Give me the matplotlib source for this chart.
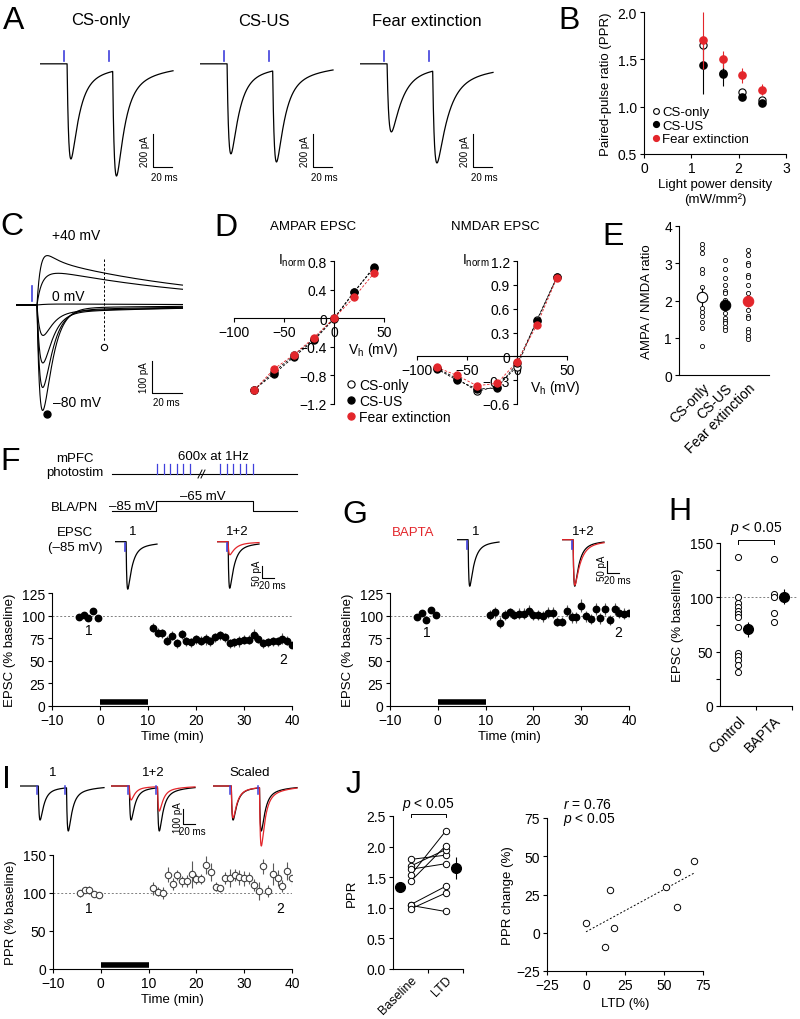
import numpy as np
import matplotlib
matplotlib.use('Agg')
import matplotlib.pyplot as plt
from matplotlib.ticker import FuncFormatter, MultipleLocator

plt.rcParams['font.family'] = ['Liberation Sans', 'DejaVu Sans']
plt.rcParams['font.size'] = 9.5
plt.rcParams['mathtext.fontset'] = 'custom'
plt.rcParams['mathtext.rm'] = 'Liberation Sans'
plt.rcParams['mathtext.it'] = 'Liberation Sans:italic'
plt.rcParams['axes.linewidth'] = 0.8

RED = '#e3262b'
BLUE = '#3f3fdc'
GREY = '#808080'

# ---------------- data ----------------
# A: paired-pulse EPSCs (pA)
A_titles = ['CS-only', 'CS-US', 'Fear extinction']
A_stim = [25, 73]
A_peak1 = [576, 545, 412]
A_peak2 = [679, 594, 600]
A_decay = [8, 8, 11]

# B: PPR vs light power
B_light = [1.24, 1.66, 2.08, 2.49]
B_cs_only = [1.65, 1.36, 1.16, 1.07]
B_cs_only_err = [0.05, 0.05, 0.03, 0.03]
B_cs_us = [1.44, 1.34, 1.10, 1.04]
B_cs_us_err = [0.31, 0.12, 0.03, 0.03]
B_fe = [1.70, 1.50, 1.33, 1.18]
B_fe_err = [0.30, 0.09, 0.08, 0.06]

# C: EPSCs at holding potentials (pA)
C_vh = [-80, -60, -40, -20, 0, 20, 40]
C_ampa = [-325, -250, -170, -85, 0, 20, 75]
C_nmda = [-8, -14, -20, -18, 3, 95, 120]

# D: I-V curves (normalised)
D_vh = [-80, -60, -40, -20, 0, 20, 40]
D_ampa_cs_only = [-1.00, -0.75, -0.52, -0.29, 0.0, 0.37, 0.70]
D_ampa_cs_us = [-1.00, -0.78, -0.54, -0.31, -0.01, 0.36, 0.72]
D_ampa_fe = [-1.01, -0.71, -0.51, -0.27, 0.0, 0.29, 0.63]
D_nmda_cs_only = [-0.15, -0.28, -0.44, -0.38, -0.13, 0.46, 1.0]
D_nmda_cs_us = [-0.16, -0.30, -0.41, -0.40, -0.09, 0.45, 1.0]
D_nmda_fe = [-0.14, -0.24, -0.37, -0.34, -0.07, 0.40, 0.99]

# E: AMPA/NMDA ratio
E_groups = ['CS-only', 'CS-US', 'Fear extinction']
E_cs_only = [3.53, 3.40, 3.27, 2.84, 2.75, 2.36, 1.81, 1.70, 1.58, 1.42, 1.27, 0.78]
E_cs_us = [3.10, 2.85, 2.61, 2.42, 2.25, 2.19, 2.01, 1.67, 1.53, 1.45, 1.39, 1.29, 1.21]
E_fe = [3.36, 3.21, 3.00, 2.95, 2.68, 2.64, 2.41, 2.21, 1.92, 1.74, 1.58, 1.54,
        1.24, 1.16, 1.05, 0.96]
E_means = [2.09, 1.89, 1.99]
E_sem = [0.24, 0.14, 0.16]

# F / G: LTD time course
base_t = [-4.4, -3.4, -2.4, -1.4, -0.4]
post_t = list(range(11, 41))
F_base = [98.0, 100.7, 97.4, 104.8, 97.8]
F_post = [86.4, 81.3, 80.6, 72.2, 77.7, 69.2, 79.5, 71.8, 70.3, 74.0, 72.2, 74.0,
          71.4, 76.2, 78.0, 75.8, 69.2, 70.3, 71.4, 73.3, 73.3, 78.8, 74.4, 69.6,
          70.3, 71.4, 71.4, 74.4, 72.2, 67.0]
F_post_err = [5, 5, 5, 5, 5, 5, 5, 5, 5, 5, 5, 6, 5, 5, 5, 5, 5, 5, 6, 5, 5, 6,
              5, 5, 5, 5, 5, 6, 5, 5]
F_trace_amp = [196, 192, 54]
G_base = [98.9, 102.6, 95.6, 106.3, 101.1]
G_post = [100.7, 103.7, 91.9, 100.7, 103.7, 100.7, 101.9, 101.9, 105.2, 100.7,
          100.7, 99.3, 103.0, 103.0, 93.3, 93.3, 105.6, 98.1, 98.1, 111.1, 99.3,
          96.3, 107.4, 97.0, 107.4, 95.2, 107.4, 103.0, 102.2, 102.6]
G_post_err = [6, 6, 6, 6, 5, 5, 6, 6, 6, 6, 6, 6, 6, 6, 5, 5, 6, 6, 6, 7, 6,
              6, 7, 6, 7, 6, 7, 6, 6, 6]
G_trace_amp = [192, 192, 188]

# H: summary
H_groups = ['Control', 'BAPTA']
H_control = [137, 100, 95, 91, 87, 85, 82, 73, 49, 46, 42, 38, 31]
H_bapta = [135, 103, 100, 86, 77]
H_means = [70.7, 100.6]
H_sem = [7, 7]

# I: PPR time course
I_trace_amp1 = [227, 93, 213]
I_trace_amp2 = [300, 167, 400]
I_base = [99.6, 103.9, 103.9, 98.7, 97.4]
I_post = [106.0, 101.8, 100.4, 124.0, 111.4, 123.7, 115.4, 116.2, 124.6, 118.4,
          118.4, 136.8, 128.0, 108.3, 106.1, 119.3, 120.2, 123.7, 120.6, 119.3,
          119.7, 111.0, 102.2, 135.0, 102.2, 125.0, 119.7, 109.6, 128.5, 119.3]
I_base_err = [5, 4, 5, 4, 3]
I_post_err = [8, 6, 8, 10, 8, 7, 7, 8, 18, 7, 7, 12, 12, 6, 5, 8, 12, 8, 10, 10,
              8, 8, 12, 10, 8, 15, 10, 8, 12, 10]

# J
J_conditions = ['Baseline', 'LTD']
J_baseline = [1.79, 1.68, 1.63, 1.53, 1.43, 1.05, 1.04, 0.98]
J_ltd = [1.86, 1.95, 1.72, 2.25, 2.01, 1.35, 0.94, 1.24]
J_means = [1.34, 1.65]
J_sem = [0.08, 0.18]
J_ltd_pct = [0, 12.4, 15.7, 18.2, 51.1, 58.2, 58.6, 69.3]
J_ppr_change = [6.6, -9.2, 28.2, 3.1, 29.8, 16.8, 39.6, 47.0]

# ---------------- helpers ----------------
W, H = 800, 1020
fig = plt.figure(figsize=(8, 10.2), dpi=100)


def pax(x0, y0, x1, y1):
    return fig.add_axes([x0 / W, 1 - y1 / H, (x1 - x0) / W, (y1 - y0) / H])


def ftext(x, y, s, **kw):
    kw.setdefault('ha', 'center')
    kw.setdefault('va', 'center')
    fig.text(x / W, 1 - y / H, s, **kw)


def style(ax):
    for s in ('top', 'right'):
        ax.spines[s].set_visible(False)
    ax.tick_params(direction='out', length=3, width=0.8, pad=2, labelsize=10)


def kernel(t, onset, tau_r, tau_d):
    s = np.clip(t - onset, 0, None)
    return np.exp(-s / tau_d) - np.exp(-s / tau_r)


def epsc(t, onset, amp, tau_d, tau_r=2.0):
    w = 0.88 * kernel(t, onset, tau_r, tau_d) + 0.12 * kernel(t, onset, 4.0, 5 * tau_d)
    return -amp * w / w.max()


def pair(t, stims, a1, a2, tau_d, lat=3.5, tau_r=2.0):
    first = epsc(t, stims[0] + lat, a1, tau_d, tau_r)
    shape2 = epsc(t, stims[1] + lat, 1.0, tau_d, tau_r)
    i2 = np.argmin(shape2)
    return first + (a2 + first[i2]) * shape2


mfmt = FuncFormatter(lambda v, p: ('%g' % round(v, 2)).replace('-', '\u2212'))
f1fmt = FuncFormatter(lambda v, p: '%.1f' % v)

# panel letters
for L, x, y in [('A', 14, 21), ('B', 569, 21), ('C', 12, 227), ('D', 226, 228),
                ('E', 613, 237), ('F', 10, 462), ('G', 355, 515), ('H', 680, 512),
                ('I', 6, 780), ('J', 354, 785)]:
    ftext(x, y, L, fontsize=23)

# ---------------- A ----------------
for i in range(3):
    x0 = 40 + 160 * i
    ax = pax(x0, 45, x0 + 142.5, 197)
    ax.set_xlim(0, 150)
    ax.set_ylim(-800, 120)
    ax.axis('off')
    t = np.linspace(0, 140, 1401)
    ax.plot(t, pair(t, A_stim, A_peak1[i], A_peak2[i], A_decay[i]), color='k', lw=0.9)
    for s in A_stim:
        ax.plot([s, s], [18, 80], color=BLUE, lw=1.2)
    ax.plot([119, 119, 139], [-424, -624, -624], color='k', lw=0.8)
    ax.text(110, -524, '200 pA', rotation=90, ha='center', va='center', fontsize=7)
    ax.text(131, -652, '20 ms', ha='center', va='top', fontsize=7)
    ftext(101 + 163 * i, 21, A_titles[i], fontsize=12)

# ---------------- B ----------------
ax = pax(644, 13, 786, 155)
style(ax)
ax.errorbar(B_light, B_cs_only, yerr=B_cs_only_err, fmt='o', ms=5.2, mfc='white', mec='k',
            mew=0.8, ecolor='k', elinewidth=0.8, label='CS-only', zorder=3)
ax.errorbar(B_light, B_cs_us, yerr=B_cs_us_err, fmt='o', ms=5.2, color='k',
            ecolor='k', elinewidth=0.8, label='CS-US', zorder=4)
ax.errorbar(B_light, B_fe, yerr=B_fe_err, fmt='o', ms=5.2, color=RED,
            ecolor=RED, elinewidth=0.8, label='Fear extinction', zorder=5)
ax.set_xlim(0, 3)
ax.set_ylim(0.5, 2.0)
ax.set_xticks([0, 1, 2, 3])
ax.set_yticks([0.5, 1.0, 1.5, 2.0])
ax.yaxis.set_major_formatter(f1fmt)
ax.set_ylabel('Paired-pulse ratio (PPR)', labelpad=4)
ax.set_xlabel('Light power density\n(mW/mm²)', labelpad=2, linespacing=1.3)
h, l = ax.get_legend_handles_labels()
ax.legend([hh[0] for hh in h], l, loc='upper left', bbox_to_anchor=(652 / W, 1 - 107 / H),
          bbox_transform=fig.transFigure, frameon=False, handlelength=0.6,
          handletextpad=0.15, labelspacing=0.1, borderpad=0, borderaxespad=0,
          markerscale=0.8, fontsize=9.5)

# ---------------- C ----------------
ax = pax(16, 225, 188, 420)
ax.set_xlim(0, 114.7)
ax.set_ylim(-356, 253)
ax.axis('off')
t = np.linspace(0, 111, 1111)
fast = kernel(t, 14, 2.5, 6)
fast = fast / fast.max()
slow = kernel(t, 14, 6, 110)
slow = slow / slow.max()
for a, n in zip(C_ampa, C_nmda):
    ax.plot(t, a * fast + n * slow, color='k', lw=0.8)
ax.plot([11, 11], [12, 59], color=BLUE, lw=1.2)
ax.plot([59, 59], [144, -116], color='k', lw=0.7, ls=(0, (2.5, 2)))
ax.plot([59], [-131], 'o', ms=4.5, mfc='white', mec='k', mew=0.8)
ax.plot([21], [-340], 'o', ms=5, color='k', clip_on=False)
ax.text(40, 219, '+40 mV', ha='center', va='center', fontsize=10)
ax.text(35, 28, '0 mV', ha='center', va='center', fontsize=10)
ax.text(41, -303, '\u201380 mV', ha='center', va='center', fontsize=10)
ax.plot([91, 91, 111], [-175, -275, -275], color='k', lw=0.8)
ax.text(85.5, -225, '100 pA', rotation=90, ha='center', va='center', fontsize=7)
ax.text(100, -288, '20 ms', ha='center', va='top', fontsize=7)

# ---------------- D ----------------
def iv_axes(box, ylim, yticks, series, lab_norm, lab_vh):
    ax = pax(*box)
    ax.set_xlim(-100, 50)
    ax.set_ylim(*ylim)
    for s in ('top', 'right'):
        ax.spines[s].set_visible(False)
    ax.spines['left'].set_position(('data', 0))
    ax.spines['bottom'].set_position(('data', 0))
    ax.tick_params(direction='out', length=3, width=0.8, pad=2, labelsize=10)
    ax.set_xticks([-100, -50, 0, 50])
    ax.set_yticks(yticks)
    ax.xaxis.set_major_formatter(mfmt)
    ax.yaxis.set_major_formatter(mfmt)
    for vals, mfc, mec, lc, lab in series:
        ax.plot(D_vh, vals, color=lc, lw=0.6, ls=(0, (3, 2)), zorder=2)
    for vals, mfc, mec, lc, lab in series:
        ax.plot(D_vh, vals, 'o', ms=5.2, mfc=mfc, mec=mec, mew=0.8, label=lab,
                zorder=3, clip_on=False)
    ftext(lab_norm[0], lab_norm[1], r'I$_\mathregular{norm}$', fontsize=10)
    ftext(lab_vh[0], lab_vh[1], r'V$_\mathregular{h}$ (mV)', fontsize=10, ha='left')
    return ax


axA = iv_axes((234, 262, 384, 405), (-1.2, 0.8), [-1.2, -0.8, -0.4, 0, 0.4, 0.8],
              [(D_ampa_cs_only, 'white', 'k', 'k', 'CS-only'),
               (D_ampa_cs_us, 'k', 'k', 'k', 'CS-US'),
               (D_ampa_fe, RED, RED, RED, 'Fear extinction')],
              (292, 261), (348, 350))
axN = iv_axes((417, 262, 567, 405), (-0.6, 1.2), [-0.6, -0.3, 0, 0.3, 0.6, 0.9, 1.2],
              [(D_nmda_cs_only, 'white', 'k', 'k', 'CS-only'),
               (D_nmda_cs_us, 'k', 'k', 'k', 'CS-US'),
               (D_nmda_fe, RED, RED, RED, 'Fear extinction')],
              (476, 261), (530, 388))
ftext(313, 227, 'AMPAR EPSC', fontsize=9.5)
ftext(495, 227, 'NMDAR EPSC', fontsize=9.5)
axA.legend(loc='upper left', bbox_to_anchor=(347 / W, 1 - 379 / H),
           bbox_transform=fig.transFigure, frameon=False, handlelength=0.6,
           handletextpad=0.25, labelspacing=0.15, borderpad=0, borderaxespad=0,
           fontsize=10)

# ---------------- E ----------------
ax = pax(679, 227, 769, 376)
style(ax)
for k, vals in enumerate([E_cs_only, E_cs_us, E_fe]):
    ax.plot([k + 1] * len(vals), vals, 'o', ms=3, mfc='white', mec='k', mew=0.6)
for k, (m, e, fc, ec) in enumerate(zip(E_means, E_sem, ['white', 'k', RED], ['k', 'k', RED])):
    ax.errorbar([k + 1], [m], yerr=[e], fmt='o', ms=7.5, mfc=fc, mec=ec, mew=0.8,
                ecolor=ec, elinewidth=0.8, zorder=4)
ax.set_xlim(0, 3.9)
ax.set_ylim(0, 4)
ax.set_yticks([0, 1, 2, 3, 4])
ax.set_xticks([1, 2, 3])
ax.set_xticklabels(E_groups, rotation=45, ha='right', rotation_mode='anchor')
ax.tick_params(axis='x', length=0, pad=4)
ax.set_ylabel('AMPA / NMDA ratio', labelpad=8)

# ---------------- F / G schematic ----------------
sch = fig.add_axes([0, 0, 1, 1], zorder=-1)
sch.set_xlim(0, W)
sch.set_ylim(H, 0)
sch.axis('off')
sch.plot([112, 297], [475, 475], color='k', lw=0.8)
for xp in [157, 163.5, 170, 176.5, 183, 189.5, 220, 226.5, 233, 239.5, 246, 252.5]:
    sch.plot([xp, xp], [465, 475], color=BLUE, lw=0.9)
sch.plot([198, 202], [479, 471], color='k', lw=0.7)
sch.plot([201, 205], [479, 471], color='k', lw=0.7)
sch.plot([112, 156, 156, 253, 253, 297], [512, 512, 502, 502, 512, 512], color='k', lw=0.8)
ftext(75, 459, 'mPFC')
ftext(75, 473, 'photostim')
ftext(213, 457, '600x at 1Hz')
ftext(75, 508, 'BLA/PN')
ftext(132, 510, '\u201385 mV', va='baseline')
ftext(203, 500, '\u201365 mV', va='baseline')
ftext(75, 533, 'EPSC')
ftext(75, 548, '(\u201385 mV)')
ftext(413, 533, 'BAPTA', color=RED)
for x, y, s in [(133, 532, '1'), (237, 532, '1+2'), (476, 532, '1'), (583, 532, '1+2')]:
    ftext(x, y, s)


def single_trace(box, amps, colors, bar):
    ax = pax(*box)
    ax.set_xlim(0, (box[2] - box[0]) / 0.6)
    ax.set_ylim(-220, 40)
    ax.axis('off')
    t = np.linspace(0, 70, 701)
    for a, c in zip(amps, colors):
        ax.plot(t, epsc(t, 18.5, a, 7 if c == 'k' else 9, tau_r=1.2), color=c, lw=0.9)
    ax.plot([16.5, 16.5], [-5, -38], color=BLUE, lw=1.2)
    if bar is not None:
        ax.plot([75, 75, 95], [bar, bar - 50, bar - 50], color='k', lw=0.8)
        ax.text(67, bar - 25, '50 pA', rotation=90, ha='center', va='center', fontsize=7)
        ax.text(92, bar - 58, '20 ms', ha='center', va='top', fontsize=7)


single_trace((115, 533, 163, 596), [F_trace_amp[0]], ['k'], None)
single_trace((217, 533, 277, 596), F_trace_amp[1:], ['k', RED], -100)
single_trace((457, 531, 505, 594), [G_trace_amp[0]], ['k'], None)
single_trace((562, 531, 622, 594), G_trace_amp[1:], ['k', RED], -87)


def timecourse(box, base, post, post_err, base_err, ylim, yticks, ylabel, filled,
               lab1, lab2):
    ax = pax(*box)
    style(ax)
    ax.axhline(100, color=GREY, lw=0.7, ls=(0, (2, 2)), zorder=1)
    kw = dict(fmt='o', ms=4.6, ecolor='0.35', elinewidth=0.8, capsize=0, zorder=3)
    if filled:
        kw.update(color='k')
    else:
        kw.update(mfc='white', mec='0.25', mew=0.8)
    ax.errorbar(base_t, base, yerr=base_err, **kw)
    ax.errorbar(post_t, post, yerr=post_err, **kw)
    ax.plot([0, 10], [ylim[1] * 0.035] * 2, color='k', lw=4, solid_capstyle='butt')
    ax.set_xlim(-10, 40)
    ax.set_ylim(*ylim)
    ax.set_yticks(yticks)
    ax.set_xticks([-10, 0, 10, 20, 30, 40])
    ax.set_xlabel('Time (min)', labelpad=2)
    ax.set_ylabel(ylabel, labelpad=4)
    ax.text(lab1[0], lab1[1], '1', ha='center', va='center', fontsize=10)
    ax.text(lab2[0], lab2[1], '2', ha='center', va='center', fontsize=10)
    return ax


timecourse((52, 594, 292, 707), F_base, F_post, F_post_err, [2] * 5, (0, 125),
           [0, 25, 50, 75, 100, 125], 'EPSC (% baseline)', True, (-2.4, 84), (38.1, 52))
timecourse((390, 594, 629, 707), G_base, G_post, G_post_err, [2] * 5, (0, 125),
           [0, 25, 50, 75, 100, 125], 'EPSC (% baseline)', True, (-2.4, 82), (37.7, 82))

# ---------------- H ----------------
ax = pax(720, 544, 792, 707)
style(ax)
ax.axhline(100, color=GREY, lw=0.7, ls=(0, (2, 2)), xmax=1.07, clip_on=False, zorder=1)
for k, vals in enumerate([H_control, H_bapta]):
    ax.plot([k + 0.5] * len(vals), vals, 'o', ms=4.4, mfc='white', mec='k', mew=0.7, zorder=3)
ax.errorbar([0.78, 1.78], H_means, yerr=H_sem, fmt='o', ms=7, color='k', ecolor='k',
            elinewidth=0.8, zorder=4, clip_on=False)
ax.set_xlim(0, 2)
ax.set_ylim(0, 150)
ax.set_yticks([0, 50, 100, 150])
ax.yaxis.set_minor_locator(MultipleLocator(25))
ax.set_xticks([0.5, 1.5])
ax.set_xticklabels(H_groups, rotation=45, ha='right', rotation_mode='anchor')
ax.set_xticks([1, 2], minor=True)
ax.tick_params(axis='x', which='major', length=0, pad=5)
ax.tick_params(which='minor', length=3, width=0.8)
ax.set_ylabel('EPSC (% baseline)', labelpad=4)
ax.plot([0.5, 0.5, 1.5, 1.5], [149, 153, 153, 149], color='k', lw=0.7, clip_on=False)
ax.text(1.0, 164, r'$\it{p}$ < 0.05', ha='center', va='center', fontsize=10)

# ---------------- I ----------------
ftext(53, 773, '1')
ftext(153, 773, '1+2')
ftext(250, 773, 'Scaled')
t = np.linspace(0, 140, 1401)
for k, (x0, pairs) in enumerate([
        (20, [('k', I_trace_amp1[0], I_trace_amp2[0])]),
        (111, [('k', I_trace_amp1[0], I_trace_amp2[0]), (RED, I_trace_amp1[1], I_trace_amp2[1])]),
        (213, [('k', I_trace_amp1[0], I_trace_amp2[0]), (RED, I_trace_amp1[2], I_trace_amp2[2])])]):
    ax = pax(x0, 781, x0 + 90, 851.5)
    ax.set_xlim(0, 150)
    ax.set_ylim(-430, 40)
    ax.axis('off')
    for c, a1, a2 in pairs:
        ax.plot(t, pair(t, [28, 75], a1, a2, 6, lat=2.5, tau_r=1.5), color=c, lw=0.9)
    for s in [28, 75]:
        ax.plot([s, s], [0, -53], color=BLUE, lw=1.1, zorder=3)
    if k == 1:
        ax.plot([120, 120, 140], [-153, -253, -253], color='k', lw=0.8)
        ax.text(112, -203, '100 pA', rotation=90, ha='center', va='center', fontsize=7)
        ax.text(136, -266, '20 ms', ha='center', va='top', fontsize=7)

timecourse((53, 856, 292, 970), I_base, I_post, I_post_err, I_base_err, (0, 150),
           [0, 50, 100, 150], 'PPR (% baseline)', False, (-2.6, 80), (37.6, 80))

# ---------------- J ----------------
ax = pax(393, 817, 463, 970)
style(ax)
for b, l in zip(J_baseline, J_ltd):
    ax.plot([0.5, 1.5], [b, l], color='k', lw=0.7, zorder=2)
ax.plot([0.5] * len(J_baseline), J_baseline, 'o', ms=4.6, mfc='white', mec='k', mew=0.7, zorder=3)
ax.plot([1.5] * len(J_ltd), J_ltd, 'o', ms=4.6, mfc='white', mec='k', mew=0.7, zorder=3)
ax.errorbar([0.2, 1.8], J_means, yerr=J_sem, fmt='o', ms=7, color='k', ecolor='k',
            elinewidth=0.8, zorder=4, clip_on=False)
ax.set_xlim(0, 2)
ax.set_ylim(0, 2.5)
ax.set_yticks([0, 0.5, 1.0, 1.5, 2.0, 2.5])
ax.yaxis.set_major_formatter(f1fmt)
ax.set_xticks([0.5, 1.5])
ax.set_xticklabels(J_conditions, rotation=45, ha='right', rotation_mode='anchor', fontsize=9)
ax.set_xticks([1, 2], minor=True)
ax.tick_params(axis='x', which='major', length=0, pad=3)
ax.tick_params(which='minor', length=3, width=0.8)
ax.set_ylabel('PPR', labelpad=6)
ax.plot([0.5, 0.5, 1.5, 1.5], [2.48, 2.53, 2.53, 2.48], color='k', lw=0.7, clip_on=False)
ax.text(1.0, 2.70, r'$\it{p}$ < 0.05', ha='center', va='center', fontsize=10)

ax = pax(547, 819, 703, 972)
style(ax)
ax.plot(J_ltd_pct, J_ppr_change, 'o', ms=4.6, mfc='white', mec='k', mew=0.7, zorder=3)
slope, icpt = np.polyfit(J_ltd_pct, J_ppr_change, 1)
xs = np.array([min(J_ltd_pct), max(J_ltd_pct)])
ax.plot(xs, slope * xs + icpt, color='k', lw=0.7, ls=(0, (2, 2)))
ax.set_xlim(-25, 75)
ax.set_ylim(-25, 75)
ax.set_xticks([-25, 0, 25, 50, 75])
ax.set_yticks([-25, 0, 25, 50, 75])
ax.set_xlabel('LTD (%)', labelpad=4)
ax.set_ylabel('PPR change (%)', labelpad=2)
ftext(563, 805, r'$\it{r}$ = 0.76', ha='left', fontsize=10)
ftext(563, 820, r'$\it{p}$ < 0.05', ha='left', fontsize=10)

fig.savefig('out.png', dpi=100)
